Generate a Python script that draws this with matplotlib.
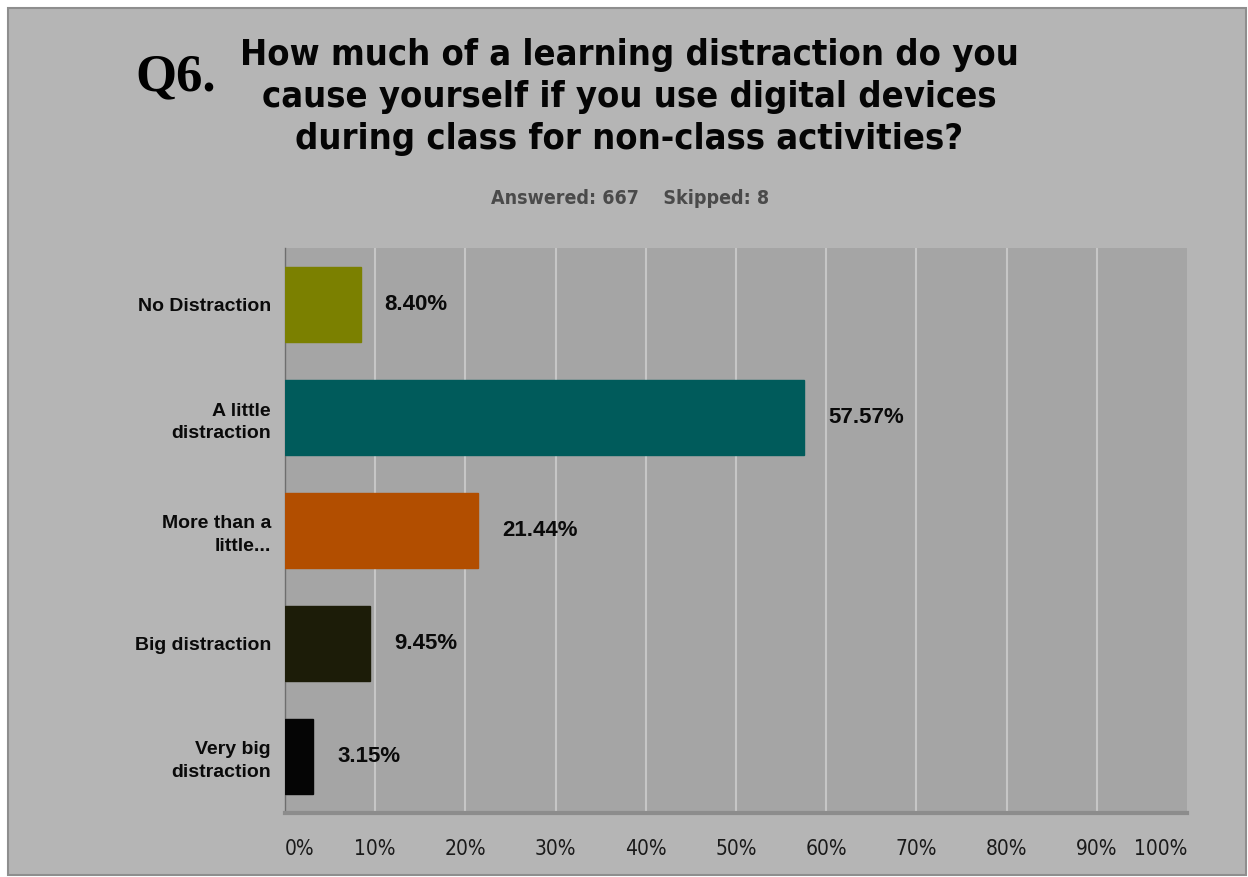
import matplotlib.pyplot as plt
from matplotlib.patches import Rectangle

# survey data
categories = ['No Distraction', 'A little\ndistraction', 'More than a\nlittle...',
              'Big distraction', 'Very big\ndistraction']
values = [8.40, 57.57, 21.44, 9.45, 3.15]
colors = ['#7b8000', '#005b5b', '#b24e00', '#1c1c08', '#050505']
ticks = [0, 10, 20, 30, 40, 50, 60, 70, 80, 90, 100]
tick_labels = [f'{t}%' for t in ticks]

narrow = ['DejaVu Sans']
sans = ['Liberation Sans', 'DejaVu Sans']

fig = plt.figure(figsize=(12.48, 8.77), dpi=100, facecolor='white')
# gray card with thin border
fig.patches.append(Rectangle((8/1248, 2/877), 1238/1248, 867/877, transform=fig.transFigure,
                             facecolor='#b5b5b5', edgecolor='#8e8e8e', linewidth=1.5, zorder=-1))

ax = fig.add_axes([285/1248, 1-813/877, 902/1248, 565/877])
ax.set_zorder(2)
ax.set_facecolor('#a5a5a5')

y = list(range(len(categories)))
ax.barh(y, values, height=0.66, color=colors, edgecolor=colors, linewidth=1, zorder=3)
ax.set_ylim(4.5, -0.5)
ax.set_xlim(0, 100)

for yi, v in zip(y, values):
    ax.annotate(f'{v:.2f}%', (v, yi), xytext=(17, 0), textcoords='offset points',
                va='center', ha='left', fontsize=16, fontweight='bold',
                family=sans, color='#0a0a0a')

ax.set_xticks(ticks)
ax.set_xticklabels(tick_labels, fontsize=15, family=narrow, fontstretch='condensed',
                   color='#1a1a1a')
labs = ax.get_xticklabels()
labs[0].set_ha('left')
labs[-1].set_ha('right')
ax.tick_params(axis='x', length=0, pad=19)

ax.set_yticks(y)
ax.set_yticklabels(categories, fontsize=14, fontweight='bold', family=sans,
                   color='#0a0a0a', linespacing=1.4)
ax.tick_params(axis='y', length=0, pad=10)

for t in ticks[1:-1]:
    ax.axvline(t, color='#c6c6c6', linewidth=1.5, zorder=1)

for s in ['top', 'right']:
    ax.spines[s].set_visible(False)
ax.spines['left'].set_color('#6e6e6e')
ax.spines['left'].set_linewidth(1)
ax.spines['bottom'].set_color('#8c8c8c')
ax.spines['bottom'].set_linewidth(3)

fig.text(135/1248, 1-90/877, 'Q6.', fontsize=38, fontweight='bold',
         family=['Liberation Serif', 'DejaVu Serif'], ha='left', va='baseline')
fig.text(629/1248, 1-97/877,
         'How much of a learning distraction do you\n'
         'cause yourself if you use digital devices\n'
         'during class for non-class activities?',
         fontsize=26, fontweight='bold', family=narrow, fontstretch='condensed',
         ha='center', va='center', linespacing=1.28, color='#050505')
fig.text(630/1248, 1-198/877, 'Answered: 667    Skipped: 8', fontsize=14,
         fontweight='bold', family=narrow, fontstretch='condensed',
         ha='center', va='center', color='#4a4a4a')

fig.savefig('out.png', dpi=100, facecolor=fig.get_facecolor())
